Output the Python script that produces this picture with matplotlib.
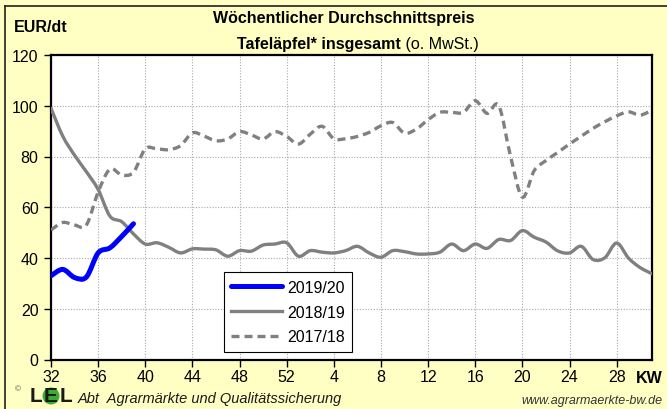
import matplotlib
matplotlib.use('Agg')
import matplotlib.pyplot as plt
from matplotlib.path import Path
from matplotlib.patches import PathPatch, Ellipse
from matplotlib.lines import Line2D
import numpy as np

# Kalenderwochen 32..52, 1..31 -> Index 0..51
tick_pos = [0, 4, 8, 12, 16, 20, 24, 28, 32, 36, 40, 44, 48]
tick_labels = ['32', '36', '40', '44', '48', '52', '4', '8', '12', '16', '20', '24', '28']

preis_1920 = [33, 35.5, 32.3, 32.5, 42, 44, 48.5, 53.5]

preis_1819 = [99, 88, 80.5, 74, 67, 56.5, 54.3, 49.5, 45.5, 46, 44.2, 42,
              43.6, 43.5, 43.2, 40.7, 42.9, 42.7, 45.1, 45.5, 46, 40.7, 42.9, 42.3,
              42, 42.9, 44.6, 42, 40.3, 42.9, 42.5, 41.6, 41.6, 42.3, 45.5, 42.9,
              45.5, 43.8, 47.3, 46.9, 50.8, 48.2, 46.3, 42.8, 42, 44.6, 39.4, 40.1,
              45.9, 40, 36.2, 33.8]

preis_1718 = [51, 54, 53, 53, 66, 75, 72.7, 73.8, 83, 83, 82.7, 84.3,
              89.3, 88, 86.2, 86.9, 89.8, 88.5, 86.9, 89.8, 87.9, 84.9, 88.8, 91.9,
              87, 87, 87.9, 89.5, 92.1, 93.4, 89.2, 90.8, 94.5, 97.4, 97.4, 97.4,
              102, 97, 100, 80, 64, 74.4, 78.4, 81.6, 84.9, 88, 91.1, 93.7,
              96, 97.6, 96.3, 98.3]


def glatte_kurve(y):
    # Excel-artige Glaettung: Bezier-Segmente mit Catmull-Rom-Kontrollpunkten
    x = np.arange(len(y), dtype=float)
    y = np.asarray(y, dtype=float)
    p = np.column_stack([x, y])
    verts = [p[0]]
    codes = [Path.MOVETO]
    n = len(p)
    for i in range(n - 1):
        p0 = p[i - 1] if i > 0 else p[i]
        p3 = p[i + 2] if i + 2 < n else p[i + 1]
        c1 = p[i] + (p[i + 1] - p0) / 6
        c2 = p[i + 1] - (p3 - p[i]) / 6
        verts += [c1, c2, p[i + 1]]
        codes += [Path.CURVE4] * 3
    return Path(verts, codes)


plt.rcParams['font.family'] = ['Liberation Sans', 'DejaVu Sans']

gelb = '#FFFFC4'
grau = '#808080'
blau = '#0000FF'

fig = plt.figure(figsize=(6.67, 4.1), dpi=100, facecolor=gelb)
ax = fig.add_axes([51 / 667, 49.5 / 410, 601 / 667, 304.5 / 410])
ax.set_facecolor('white')

dash = (0, (2.4, 1.5))
ax.add_patch(PathPatch(glatte_kurve(preis_1718), fill=False, edgecolor=grau,
                       lw=2.4, linestyle=dash, capstyle='butt', zorder=3))
ax.add_patch(PathPatch(glatte_kurve(preis_1819), fill=False, edgecolor=grau,
                       lw=2.4, capstyle='round', joinstyle='round', zorder=4))
ax.add_patch(PathPatch(glatte_kurve(preis_1920), fill=False, edgecolor=blau,
                       lw=3.6, capstyle='round', joinstyle='round', zorder=5))

ax.set_xlim(0, 51)
ax.set_ylim(0, 120)
ax.set_xticks(tick_pos)
ax.set_xticklabels(tick_labels)
ax.set_yticks(range(0, 121, 20))
ax.tick_params(axis='both', labelsize=11.5, direction='out', length=5, width=1, color='black')
ax.tick_params(axis='y', pad=4)
ax.tick_params(axis='x', pad=2)
ax.grid(True, color='#A8A8A8', linestyle=(0, (1, 1.5)), linewidth=0.8)
ax.set_axisbelow(True)
for s in ax.spines.values():
    s.set_linewidth(1.6)
    s.set_color('black')

handles = [Line2D([], [], color=blau, lw=3.6, solid_capstyle='round'),
           Line2D([], [], color=grau, lw=2.4),
           Line2D([], [], color=grau, lw=2.4, linestyle=dash)]
leg = ax.legend(handles, ['2019/20', '2018/19', '2017/18'], loc='upper left',
                bbox_to_anchor=(0.274, 0.312), fontsize=11.5, frameon=True,
                fancybox=False, framealpha=1, edgecolor='black', handlelength=3.2,
                handletextpad=0.3, labelspacing=0.62, borderpad=0.45)
leg.get_frame().set_linewidth(0.8)
leg.set_zorder(10)

# Titel
fig.text(344 / 667, 1 - 18 / 410, 'Wöchentlicher Durchschnittspreis', ha='center', va='center',
         fontsize=11.5, fontweight='bold')
t2 = fig.text(401 / 667, 1 - 49 / 410, 'Tafeläpfel* insgesamt', ha='right', va='baseline',
              fontsize=11.5, fontweight='bold')
ax.annotate(' (o. MwSt.)', xy=(1, 0), xycoords=t2, ha='left', va='bottom', fontsize=11.5,
            annotation_clip=False)
fig.text(14 / 667, 1 - 27 / 410, 'EUR/dt', ha='left', va='center', fontsize=11.5, fontweight='bold')
fig.text(649 / 667, 1 - 379 / 410, 'KW', ha='center', va='center', fontsize=11.5, fontweight='bold')

# Fusszeile
fig.text(18 / 667, 1 - 390 / 410, '©', ha='center', va='center', fontsize=6, color='#555555')
fig.patches.append(Ellipse((51 / 667, 1 - 397 / 410), 17 / 667, 17 / 410, transform=fig.transFigure,
                           facecolor='#3DAA35', edgecolor='none', zorder=1))
for lx, buchstabe in [(36, 'L'), (51, 'E'), (66, 'L')]:
    fig.text(lx / 667, 1 - 397 / 410, buchstabe, ha='center', va='center', fontsize=15,
             fontweight='bold', color='#1A1A1A', zorder=2)
fig.text(78 / 667, 1 - 399 / 410, 'Abt  Agrarmärkte und Qualitätssicherung', ha='left', va='center',
         fontsize=10.5, style='italic', color='#1A1A1A')
fig.text(662 / 667, 1 - 401 / 410, 'www.agrarmaerkte-bw.de', ha='right', va='center',
         fontsize=9, style='italic', color='#333333')

# Rahmen
fig.add_artist(Line2D([5 / 667, 1], [1 - 7 / 410, 1 - 7 / 410], transform=fig.transFigure,
                      color='#202020', lw=1.2))
fig.add_artist(Line2D([5 / 667, 5 / 667], [0, 1 - 7 / 410], transform=fig.transFigure,
                      color='#202020', lw=1.2))

fig.savefig('out.png', dpi=100, facecolor=gelb)
